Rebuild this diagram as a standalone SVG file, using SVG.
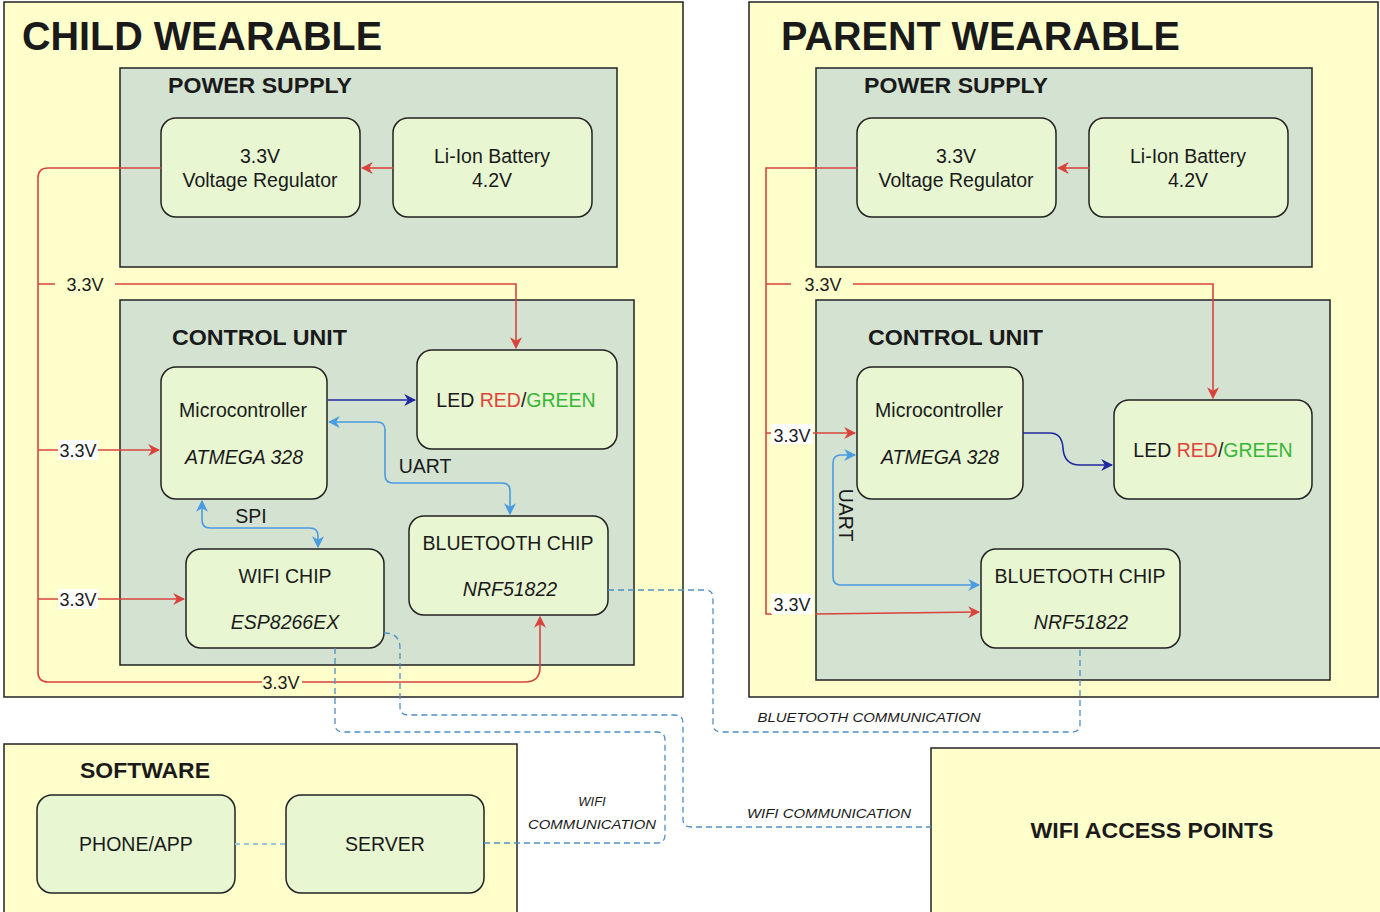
<svg xmlns="http://www.w3.org/2000/svg" width="1380" height="912" viewBox="0 0 1380 912">
<defs>
<style>
text{font-family:"Liberation Sans",Arial,sans-serif;fill:#1a1a1a}
.outer{fill:#ffffcc;stroke:#222;stroke-width:1.5}
.inner{fill:#d4e2d2;stroke:#222;stroke-width:1.5}
.node{fill:#e8f6d2;stroke:#222;stroke-width:1.5}
.title{font-size:40px;font-weight:bold}
.head{font-size:22px;font-weight:bold}
.lbl{font-size:19.5px;text-anchor:middle}
.it{font-style:italic}
.v{font-size:18px;text-anchor:middle}
.small{font-size:13px;font-style:italic;text-anchor:middle}
.red{fill:none;stroke:#d8443c;stroke-width:1.6}
.dblue{fill:none;stroke:#1f2aa0;stroke-width:1.6}
.lblue{fill:none;stroke:#4a9be0;stroke-width:1.6}
.dash{fill:none;stroke:#4f8fc6;stroke-width:1.3;stroke-dasharray:6 4}
.dash2{fill:none;stroke:#9cc9d8;stroke-width:2;stroke-dasharray:5 4}
</style>
<marker id="ar" viewBox="0 0 10 10" refX="9" refY="5" markerWidth="12" markerHeight="12" markerUnits="userSpaceOnUse" orient="auto-start-reverse"><path d="M0,0 L10,5 L0,10 L3,5 z" fill="#d8443c"/></marker>
<marker id="ab" viewBox="0 0 10 10" refX="9" refY="5" markerWidth="12" markerHeight="12" markerUnits="userSpaceOnUse" orient="auto-start-reverse"><path d="M0,0 L10,5 L0,10 L3,5 z" fill="#1f2aa0"/></marker>
<marker id="al" viewBox="0 0 10 10" refX="9" refY="5" markerWidth="12" markerHeight="12" markerUnits="userSpaceOnUse" orient="auto-start-reverse"><path d="M0,0 L10,5 L0,10 L3,5 z" fill="#4a9be0"/></marker>
</defs>
<rect width="1380" height="912" fill="#ffffff"/>

<!-- containers -->
<g id="child-wearable">
<rect class="outer" x="4" y="2" width="679" height="695"/>
<text class="title" x="22" y="50" textLength="360" lengthAdjust="spacingAndGlyphs">CHILD WEARABLE</text>
</g>
<g id="child-power-supply">
<rect class="inner" x="120" y="68" width="497" height="199"/>
<text class="head" x="168" y="93" textLength="184" lengthAdjust="spacingAndGlyphs">POWER SUPPLY</text>
</g>
<g id="child-control-unit">
<rect class="inner" x="120" y="300" width="514" height="365"/>
<text class="head" x="172" y="345" textLength="175" lengthAdjust="spacingAndGlyphs">CONTROL UNIT</text>
</g>
<g id="parent-wearable">
<rect class="outer" x="749" y="2" width="629" height="695"/>
<text class="title" x="781" y="50" textLength="399" lengthAdjust="spacingAndGlyphs">PARENT WEARABLE</text>
</g>
<g id="parent-power-supply">
<rect class="inner" x="816" y="68" width="496" height="199"/>
<text class="head" x="864" y="93" textLength="184" lengthAdjust="spacingAndGlyphs">POWER SUPPLY</text>
</g>
<g id="parent-control-unit">
<rect class="inner" x="816" y="300" width="514" height="380"/>
<text class="head" x="868" y="345" textLength="175" lengthAdjust="spacingAndGlyphs">CONTROL UNIT</text>
</g>
<g id="software">
<rect class="outer" x="4" y="744" width="513" height="175"/>
<text class="head" x="80" y="778" textLength="130" lengthAdjust="spacingAndGlyphs">SOFTWARE</text>
</g>
<g id="wifi-access-points">
<rect class="outer" x="931" y="748" width="452" height="170"/>
<text class="head" x="1152" y="838" text-anchor="middle" textLength="243" lengthAdjust="spacingAndGlyphs">WIFI ACCESS POINTS</text>
</g>

<!-- child nodes -->
<g id="c-regulator">
<rect class="node" x="161" y="118" width="199" height="99" rx="15"/>
<text class="lbl" x="260" y="163">3.3V</text>
<text class="lbl" x="260" y="187">Voltage Regulator</text>
</g>
<g id="c-battery">
<rect class="node" x="393" y="118" width="199" height="99" rx="15"/>
<text class="lbl" x="492" y="163">Li-Ion Battery</text>
<text class="lbl" x="492" y="187">4.2V</text>
</g>
<g id="c-micro">
<rect class="node" x="161" y="367" width="166" height="132" rx="15"/>
<text class="lbl" x="243" y="417">Microcontroller</text>
<text class="lbl it" x="244" y="464">ATMEGA 328</text>
</g>
<g id="c-led">
<rect class="node" x="417" y="350" width="200" height="99" rx="15"/>
<text class="lbl" x="516" y="407">LED <tspan fill="#e0443a">RED</tspan>/<tspan fill="#36b536">GREEN</tspan></text>
</g>
<g id="c-bt">
<rect class="node" x="409" y="516" width="199" height="99" rx="15"/>
<text class="lbl" x="508" y="550">BLUETOOTH CHIP</text>
<text class="lbl it" x="510" y="596">NRF51822</text>
</g>
<g id="c-wifi">
<rect class="node" x="186" y="549" width="198" height="99" rx="15"/>
<text class="lbl" x="285" y="583">WIFI CHIP</text>
<text class="lbl it" x="285" y="629">ESP8266EX</text>
</g>

<!-- parent nodes -->
<g id="p-regulator">
<rect class="node" x="857" y="118" width="199" height="99" rx="15"/>
<text class="lbl" x="956" y="163">3.3V</text>
<text class="lbl" x="956" y="187">Voltage Regulator</text>
</g>
<g id="p-battery">
<rect class="node" x="1089" y="118" width="199" height="99" rx="15"/>
<text class="lbl" x="1188" y="163">Li-Ion Battery</text>
<text class="lbl" x="1188" y="187">4.2V</text>
</g>
<g id="p-micro">
<rect class="node" x="857" y="367" width="166" height="132" rx="15"/>
<text class="lbl" x="939" y="417">Microcontroller</text>
<text class="lbl it" x="940" y="464">ATMEGA 328</text>
</g>
<g id="p-led">
<rect class="node" x="1114" y="400" width="198" height="99" rx="15"/>
<text class="lbl" x="1213" y="457">LED <tspan fill="#e0443a">RED</tspan>/<tspan fill="#36b536">GREEN</tspan></text>
</g>
<g id="p-bt">
<rect class="node" x="981" y="549" width="199" height="99" rx="15"/>
<text class="lbl" x="1080" y="583">BLUETOOTH CHIP</text>
<text class="lbl it" x="1081" y="629">NRF51822</text>
</g>

<!-- software nodes -->
<g id="phone-app">
<rect class="node" x="37" y="795" width="198" height="98" rx="15"/>
<text class="lbl" x="136" y="851">PHONE/APP</text>
</g>
<g id="server">
<rect class="node" x="286" y="795" width="198" height="98" rx="15"/>
<text class="lbl" x="385" y="851">SERVER</text>
</g>

<!-- connectors -->
<g id="connectors">
<!-- child power -->
<path class="red" d="M393 168 L362 168" marker-end="url(#ar)"/>
<path class="red" d="M161 168 L48 168 Q38 168 38 178 L38 672 Q38 682 48 682 L525 682 Q540 682 540 667 L540 617" marker-end="url(#ar)"/>
<path class="red" d="M38 284 L516 284 L516 348" marker-end="url(#ar)"/>
<path class="red" d="M38 450 L159 450" marker-end="url(#ar)"/>
<path class="red" d="M38 599 L184 599" marker-end="url(#ar)"/>
<!-- child data -->
<path class="dblue" d="M328 400 L415 400" marker-end="url(#ab)"/>
<path class="lblue" d="M329 422 L377 422 Q385 422 385 430 L385 475 Q385 483 393 483 L502 483 Q510 483 510 491 L510 514" marker-start="url(#al)" marker-end="url(#al)"/>
<path class="lblue" d="M202 501 L202 520 Q202 528 210 528 L310 528 Q318 528 318 536 L318 547" marker-start="url(#al)" marker-end="url(#al)"/>
<!-- parent power -->
<path class="red" d="M1089 168 L1058 168" marker-end="url(#ar)"/>
<path class="red" d="M857 168 L766 168 L766 614 L772 614"/>
<path class="red" d="M766 284 L1213 284 L1213 398" marker-end="url(#ar)"/>
<path class="red" d="M766 433 L855 433" marker-end="url(#ar)"/>
<path class="red" d="M815 614 L979 612" marker-end="url(#ar)"/>
<!-- parent data -->
<path class="dblue" d="M1023 433 L1050 433 Q1062 433 1063 448 Q1064 465 1080 465 L1112 465" marker-end="url(#ab)"/>
<path class="lblue" d="M855 455 L841 455 Q833 455 833 463 L833 577 Q833 585 841 585 L979 585" marker-start="url(#al)" marker-end="url(#al)"/>
<!-- wireless -->
<path class="dash" d="M384 633 Q400 633 400 648 L400 707 Q400 715 408 715 L675 715 Q683 715 683 723 L683 819 Q683 827 691 827 L931 827"/>
<path class="dash" d="M335 648 L335 724 Q335 732 343 732 L657 732 Q665 732 665 740 L665 835 Q665 843 657 843 L484 843"/>
<path class="dash" d="M608 590 L705 590 Q713 590 713 598 L713 724 Q713 732 721 732 L1072 732 Q1080 732 1080 724 L1080 648"/>
<path class="dash2" d="M235 844 L286 844"/>
</g>

<!-- connector labels -->
<g id="labels">
<rect x="55" y="273" width="60" height="22" fill="#ffffcc"/>
<text class="v" x="85" y="291">3.3V</text>
<rect x="58" y="440" width="40" height="20" fill="#ffffff"/>
<text class="v" x="78" y="457">3.3V</text>
<rect x="58" y="589" width="40" height="20" fill="#ffffff"/>
<text class="v" x="78" y="606">3.3V</text>
<rect x="262" y="672" width="40" height="20" fill="#ffffcc"/>
<text class="v" x="281" y="689">3.3V</text>
<text class="lbl" x="251" y="523">SPI</text>
<text class="lbl" x="425" y="473">UART</text>
<rect x="791" y="273" width="62" height="22" fill="#ffffcc"/>
<text class="v" x="823" y="291">3.3V</text>
<rect x="771" y="424" width="42" height="20" fill="#ffffff"/>
<text class="v" x="792" y="442">3.3V</text>
<rect x="771" y="594" width="42" height="20" fill="#ffffff"/>
<text class="v" x="792" y="611">3.3V</text>
<text class="lbl" x="0" y="0" transform="translate(839 515) rotate(90)">UART</text>
<text class="small" x="869" y="722" textLength="223" lengthAdjust="spacingAndGlyphs">BLUETOOTH COMMUNICATION</text>
<text class="small" x="829" y="818" textLength="164" lengthAdjust="spacingAndGlyphs">WIFI COMMUNICATION</text>
<text class="small" x="592" y="806">WIFI</text>
<text class="small" x="592" y="829" textLength="128" lengthAdjust="spacingAndGlyphs">COMMUNICATION</text>
</g>
</svg>
